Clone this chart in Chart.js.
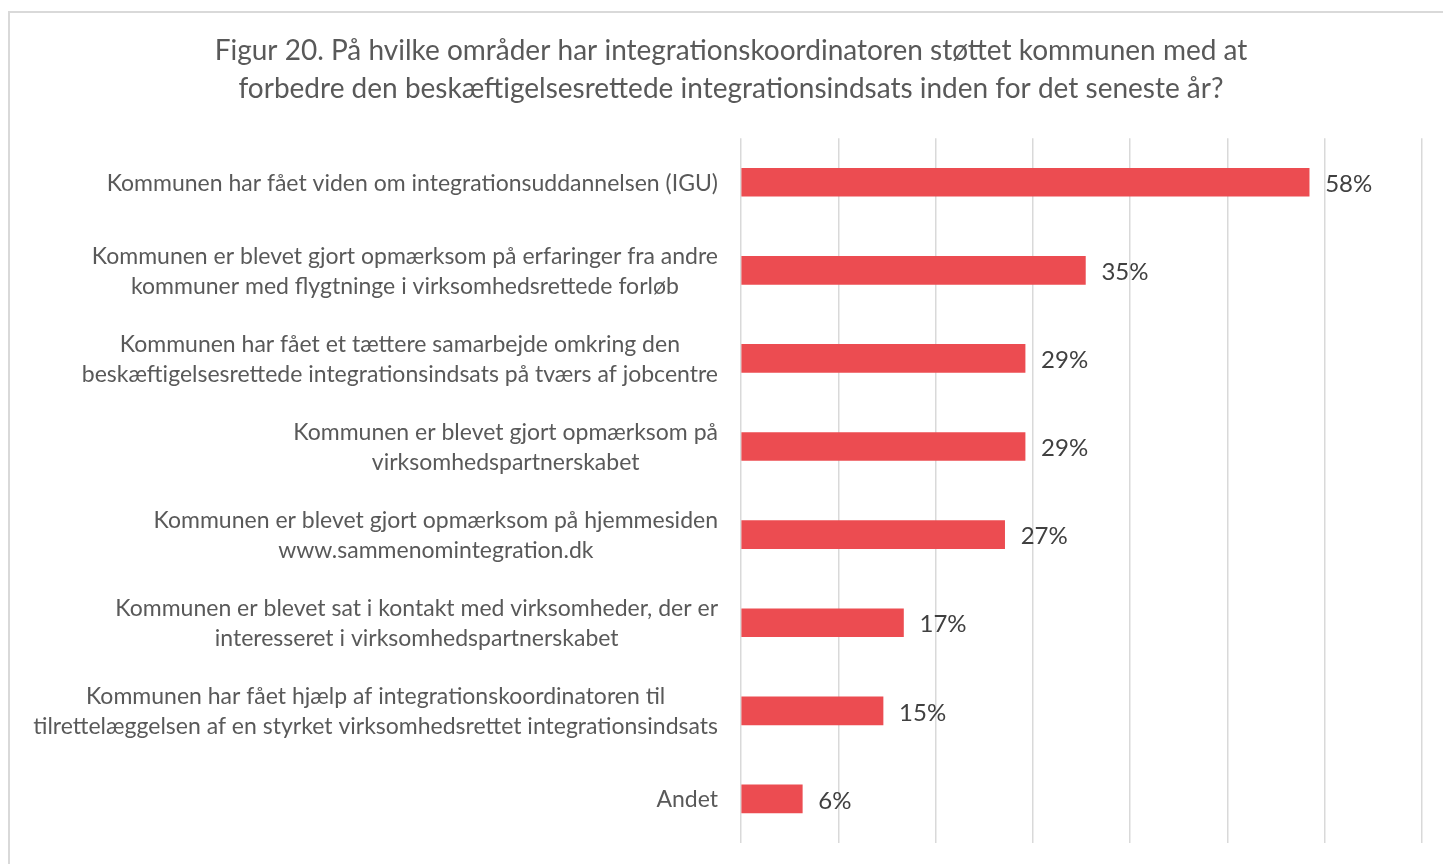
<!DOCTYPE html>
<html>
<head>
<meta charset="utf-8">
<script src="https://cdn.jsdelivr.net/npm/chart.js@4"></script>
<style>
  html, body { margin: 0; padding: 0; background: #fff; overflow: hidden; }
  #frame { position: absolute; left: 8px; top: 11px; width: 1446px; height: 880px; border: 2px solid #d9d9d9; }
  #wrap { position: absolute; left: 0; top: 0; width: 1442px; height: 851px; }
</style>
</head>
<body>
<div id="frame"><div id="wrap"><canvas id="chart"></canvas></div></div>
<script>
const titleLines = [
  "Figur 20. På hvilke områder har integrationskoordinatoren støttet kommunen med at",
  "forbedre den beskæftigelsesrettede integrationsindsats inden for det seneste år?"
];

const categories = [
  ["Kommunen har fået viden om integrationsuddannelsen (IGU)"],
  ["Kommunen er blevet gjort opmærksom på erfaringer fra andre", "kommuner med flygtninge i virksomhedsrettede forløb"],
  ["Kommunen har fået et tættere samarbejde omkring den", "beskæftigelsesrettede integrationsindsats på tværs af jobcentre"],
  ["Kommunen er blevet gjort opmærksom på", "virksomhedspartnerskabet"],
  ["Kommunen er blevet gjort opmærksom på hjemmesiden", "www.sammenomintegration.dk"],
  ["Kommunen er blevet sat i kontakt med virksomheder, der er", "interesseret i virksomhedspartnerskabet"],
  ["Kommunen har fået hjælp af integrationskoordinatoren til", "tilrettelæggelsen af en styrket virksomhedsrettet integrationsindsats"],
  ["Andet"]
];

// aflæst fra søjlelængderne, vises afrundet
const values = [58.4, 35.4, 29.2, 29.2, 27.1, 16.7, 14.6, 6.3];

const FONT = "Lato, 'Source Sans Pro', sans-serif";

// kategoritekster: linjer centreret, blok højrestillet ved aksen
const labelPlugin = {
  id: "catLabels",
  afterDraw(chart) {
    const ctx = chart.ctx;
    const y = chart.scales.y;
    const right = chart.chartArea.left - 23;
    ctx.save();
    ctx.font = "23px " + FONT;
    ctx.fillStyle = "#595959";
    ctx.textAlign = "center";
    ctx.textBaseline = "middle";
    categories.forEach((lines, i) => {
      const cy = y.getPixelForValue(i) + 1;
      const w = Math.max(...lines.map(l => ctx.measureText(l).width));
      const cx = right - w / 2;
      const lh = 30;
      lines.forEach((l, j) => {
        ctx.fillText(l, cx, cy + (j - (lines.length - 1) / 2) * lh);
      });
    });
    ctx.restore();
  }
};

const valuePlugin = {
  id: "valueLabels",
  afterDatasetsDraw(chart) {
    const ctx = chart.ctx;
    const meta = chart.getDatasetMeta(0);
    ctx.save();
    ctx.font = "24px " + FONT;
    ctx.fillStyle = "#404040";
    ctx.textAlign = "left";
    ctx.textBaseline = "middle";
    meta.data.forEach((bar, i) => {
      ctx.fillText(Math.round(values[i]) + "%", bar.x + 16, bar.y + 2);
    });
    ctx.restore();
  }
};

new Chart(document.getElementById("chart"), {
  type: "bar",
  data: {
    labels: categories.map(c => c.join(" ")),
    datasets: [{
      data: values,
      backgroundColor: "#ec4c51",
      barThickness: 28
    }]
  },
  options: {
    indexAxis: "y",
    responsive: true,
    maintainAspectRatio: false,
    animation: false,
    layout: { padding: { left: 30, right: 30, top: 0, bottom: 21 } },
    plugins: {
      legend: { display: false },
      tooltip: { enabled: false },
      title: {
        display: true,
        text: titleLines,
        color: "#595959",
        font: { family: FONT, size: 28, weight: "normal", lineHeight: 1.36 },
        padding: { top: 19, bottom: 30 }
      }
    },
    scales: {
      x: {
        min: 0,
        max: 70,
        ticks: { display: false, stepSize: 10 },
        grid: { color: "#d9d9d9", lineWidth: 1.5, drawTicks: false },
        border: { display: false },
        afterFit(scale) { scale.height = 0; }
      },
      y: {
        ticks: { display: false },
        grid: { display: false },
        border: { display: false },
        afterFit(scale) { scale.width = 701; }
      }
    }
  },
  plugins: [labelPlugin, valuePlugin]
});
</script>
</body>
</html>
